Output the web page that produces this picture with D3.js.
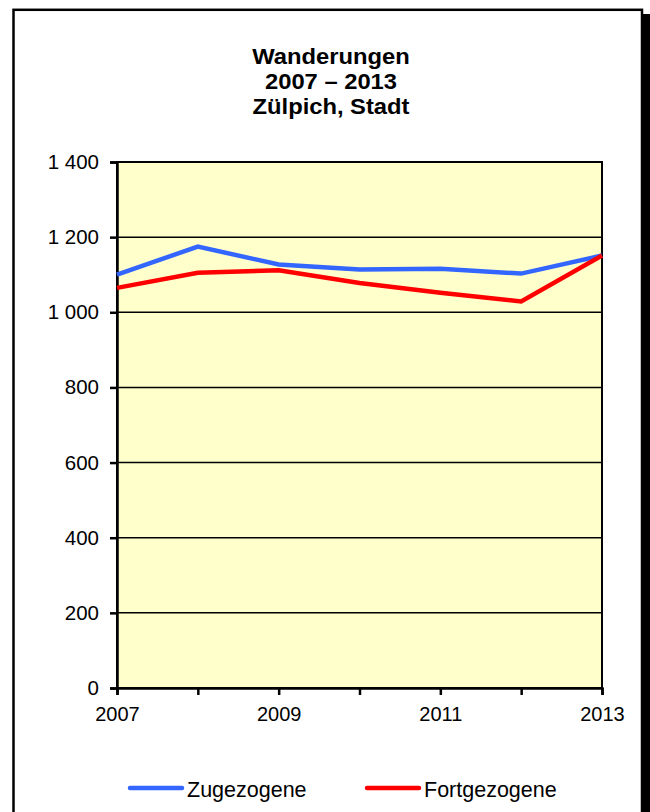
<!DOCTYPE html>
<html>
<head>
<meta charset="utf-8">
<script src="https://cdn.jsdelivr.net/npm/d3@7"></script>
<style>
  body { margin: 0; background: #fff; }
  svg { display: block; font-family: Arial, "Liberation Sans", sans-serif; }
</style>
</head>
<body>
<div id="chart"></div>
<script>
// data
let years = [2007, 2008, 2009, 2010, 2011, 2012, 2013];
let zugezogene = [1100, 1175, 1127, 1114, 1116, 1103, 1151];
let fortgezogene = [1065, 1105, 1112, 1078, 1052, 1029, 1151];
let yTicks = [0, 200, 400, 600, 800, 1000, 1200, 1400];
let xLabels = [2007, 2009, 2011, 2013];
let titleLines = ["Wanderungen", "2007 \u2013 2013", "Zülpich, Stadt"];

let width = 650, height = 812;
let plotLeft = 117, plotRight = 602, plotTop = 162, plotBottom = 688;
let font = "Arial, 'Liberation Sans', sans-serif";

let svg = d3.select("#chart").append("svg")
    .attr("width", width)
    .attr("height", height);

// frame with shadow on the right
svg.append("rect")
    .attr("x", 20).attr("y", 14)
    .attr("width", 630).attr("height", 820)
    .attr("fill", "#000");
svg.append("rect")
    .attr("x", 13.5).attr("y", 9.8)
    .attr("width", 628.5).attr("height", 820)
    .attr("fill", "#fff")
    .attr("stroke", "#000")
    .attr("stroke-width", 2.5);

// title
svg.append("g").selectAll("text")
    .data(titleLines)
    .join("text")
    .attr("transform", (d, i) => `translate(331,${63.5 + i * 25.3}) scale(1.08,1)`)
    .attr("text-anchor", "middle")
    .style("font-size", "22px")
    .style("font-weight", "bold")
    .text(d => d);

let x = d3.scaleLinear().domain([2007, 2013]).range([plotLeft, plotRight]);
let y = d3.scaleLinear().domain([0, 1400]).range([plotBottom, plotTop]);

// plot area
svg.append("rect")
    .attr("x", plotLeft).attr("y", plotTop)
    .attr("width", plotRight - plotLeft).attr("height", plotBottom - plotTop)
    .attr("fill", "#ffffcc");

// grid lines
svg.append("g").selectAll("line")
    .data(yTicks.slice(1))
    .join("line")
    .attr("x1", plotLeft).attr("x2", plotRight)
    .attr("y1", d => y(d)).attr("y2", d => y(d))
    .attr("stroke", "#000")
    .attr("stroke-width", 1.5);

// plot border
svg.append("rect")
    .attr("x", plotLeft).attr("y", plotTop)
    .attr("width", plotRight - plotLeft).attr("height", plotBottom - plotTop)
    .attr("fill", "none")
    .attr("stroke", "#000")
    .attr("stroke-width", 2);

// y axis
let yAxis = svg.append("g")
    .attr("transform", `translate(${plotLeft},0)`)
    .call(d3.axisLeft(y).tickValues(yTicks).tickSize(7).tickPadding(11)
        .tickFormat(d => d3.format(",")(d).replace(",", " ")));
yAxis.select(".domain").attr("stroke-width", 2.5);
yAxis.selectAll(".tick line").attr("stroke-width", 2.5);
yAxis.selectAll("text").style("font-size", "20.5px").attr("fill", "#000")
    .style("font-family", font);

// x axis
let xAxis = svg.append("g")
    .attr("transform", `translate(0,${plotBottom})`)
    .call(d3.axisBottom(x).tickValues(years).tickSize(7).tickPadding(11.5)
        .tickFormat(d => xLabels.includes(d) ? d : ""));
xAxis.select(".domain").attr("stroke-width", 2.5);
xAxis.selectAll(".tick line").attr("stroke-width", 2.5);
xAxis.selectAll("text").style("font-size", "20px").attr("fill", "#000")
    .style("font-family", font);

// lines
let line = d3.line()
    .x((d, i) => x(years[i]))
    .y(d => y(d));

svg.append("path")
    .datum(zugezogene)
    .attr("d", line)
    .attr("fill", "none")
    .attr("stroke", "#3366ff")
    .attr("stroke-width", 4.5);

svg.append("path")
    .datum(fortgezogene)
    .attr("d", line)
    .attr("fill", "none")
    .attr("stroke", "#ff0000")
    .attr("stroke-width", 4.5);

// legend
let legend = [
    {name: "Zugezogene", color: "#3366ff", x: 130},
    {name: "Fortgezogene", color: "#ff0000", x: 367}
];
let lg = svg.append("g").selectAll("g")
    .data(legend)
    .join("g")
    .attr("transform", d => `translate(${d.x},788)`);
lg.append("line")
    .attr("x1", 0).attr("x2", 52)
    .attr("stroke", d => d.color)
    .attr("stroke-width", 4.5)
    .attr("stroke-linecap", "round");
lg.append("text")
    .attr("x", 57).attr("y", 8.5)
    .style("font-size", "21.5px")
    .text(d => d.name);
</script>
</body>
</html>
